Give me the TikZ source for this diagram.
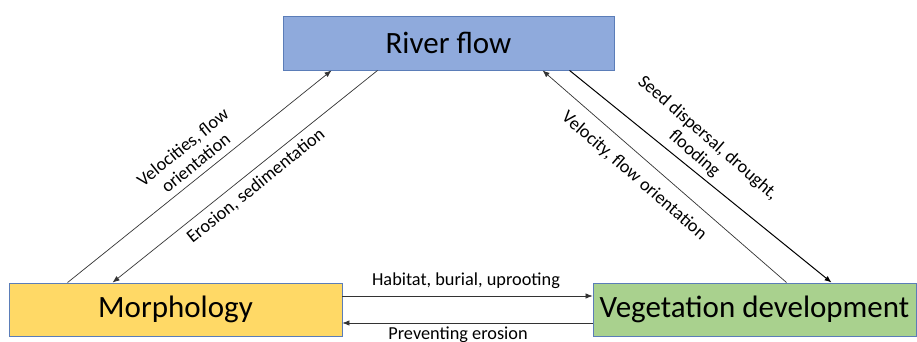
\documentclass[tikz,border=0pt]{standalone}
\usepackage{fontspec}
\setmainfont{Carlito}
\usetikzlibrary{arrows.meta,calc}
\definecolor{riverblue}{HTML}{8FAADC}
\definecolor{morphyellow}{HTML}{FFD966}
\definecolor{veggreen}{HTML}{A9D18E}
\definecolor{boxedge}{HTML}{5B7DB8}
\tikzset{
  box/.style={draw=boxedge, line width=0.9pt, minimum height=53pt, inner sep=0pt, font=\fontsize{31}{36}\selectfont},
  conn/.style={line width=0.7pt, draw=black!80, -{Latex[length=7pt,width=5.5pt]}},
  lbl/.style={font=\fontsize{18.3}{20.5}\selectfont, align=center, inner sep=0pt}
}
\begin{document}
\begin{tikzpicture}[x=1pt,y=-1pt]
\useasboundingbox (0,0) rectangle (917,342);
\clip (0,0) rectangle (917,342);
\node[box, fill=riverblue, minimum width=331pt, minimum height=54pt] (river) at (448.5,43) {River flow};
\node[box, fill=morphyellow, minimum width=333pt] (morph) at (175.5,309.5) {Morphology};
\node[box, fill=veggreen, minimum width=323pt] (veg) at (754.5,309.5) {Vegetation development};
% left pair
\draw[conn] ($(morph.north west)+(59,0)$) -- ($(river.south west)+(49,0)$);
\draw[conn] ($(river.south west)+(95,0)$) -- ($(morph.north west)+(104,0)$);
% right pair
\draw[conn] ($(veg.north west)+(194,0)$) -- ($(river.south west)+(260,0)$);
\draw[conn, line width=1pt, draw=black] ($(river.south west)+(287,0)$) -- ($(veg.north west)+(239,0)$);
% horizontal
\draw[conn] ($(morph.east)+(0,-13.5)$) -- ($(veg.west)+(0,-13.5)$);
\draw[conn] ($(veg.west)+(0,13.5)$) -- ($(morph.east)+(0,13.5)$);
% labels
\node[lbl, rotate=39] (l1) at (189,155) {Velocities, flow\\orientation};
\node[lbl, rotate=39] (l2) at (256,186) {Erosion, sedimentation};
\node[lbl, rotate=-41] (l3) at (634,176) {Velocity, flow orientation};
\node[lbl, rotate=-41] (l4) at (701,146) {Seed dispersal, drought,\\flooding};
\node[lbl] (l5) at (466,281) {Habitat, burial, uprooting};
\node[lbl] (l6) at (458,335) {Preventing erosion};
\end{tikzpicture}
\end{document}
